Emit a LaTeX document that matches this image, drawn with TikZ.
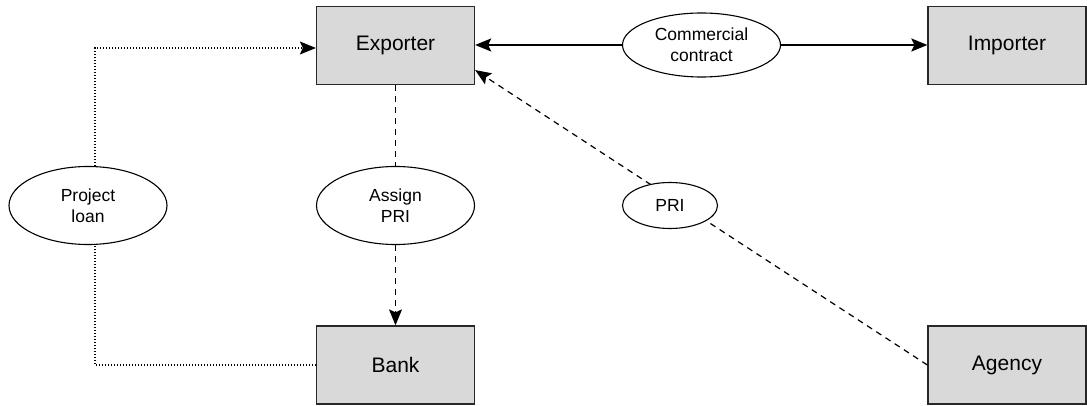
\documentclass[tikz,border=0pt]{standalone}
\usepackage{fontspec}
\setmainfont{Liberation Sans}
\usetikzlibrary{arrows.meta,calc,shapes.geometric}
\definecolor{boxfill}{RGB}{217,217,217}
\definecolor{boxline}{RGB}{40,40,40}

\begin{document}
\begin{tikzpicture}[x=1pt,y=-1pt,
  party/.style={draw=boxline,line width=1.3pt,fill=boxfill,minimum width=158pt,
    minimum height=78pt,inner sep=0pt,font=\fontsize{21}{25}\selectfont},
  tag/.style={ellipse,draw=black,line width=1.1pt,fill=white,inner sep=0pt,
    align=center,font=\fontsize{17.5}{21}\selectfont},
  tip/.style={-{Stealth[length=16pt,width=13pt,inset=3pt]}},
  solidlink/.style={line width=1.8pt},
  dashlink/.style={line width=1.2pt,dash pattern=on 6pt off 5pt},
  dotlink/.style={line width=1.2pt,dash pattern=on 1.2pt off 1.8pt},
]
\useasboundingbox (0,0) rectangle (1087,406);

% parties
\node[party] (exp)    at (395.5,45.5) {Exporter};
\node[party] (imp)    at (1007,45.5)  {Importer};
\node[party] (bank)   at (395.5,365)  {Bank};
\node[party] (agency) at (1007,365)   {Agency};

% contract between exporter and importer
\node[tag,minimum width=158pt,minimum height=64pt] (cc) at (701.5,45) {Commercial\\contract};
\draw[solidlink,tip] (cc.west) -- (cc.west -| exp.east);
\draw[solidlink,tip] (cc.east) -- (cc.east -| imp.west);

% assignment of the insurance to the bank
\node[tag,minimum width=158pt,minimum height=78pt] (assign) at (395.5,205.5) {Assign\\PRI};
\draw[dashlink] (exp) -- (assign);
\draw[dashlink,tip] (assign) -- (bank);

% loan from the bank to the exporter
\coordinate (loanrail) at (95,205.5);
\draw[dotlink,tip] (bank.west) -| (loanrail) |- ([yshift=-2.5pt]exp.west);
\node[tag,minimum width=158pt,minimum height=78pt] (loan) at (88,205.5) {Project\\loan};

% insurance from the agency
\draw[dashlink,tip] (agency.west) -- ($(exp.east)!0.62!(exp.south east)$);
\node[tag,minimum width=95pt,minimum height=46pt] (pri) at (670,205.5) {PRI};
\end{tikzpicture}
\end{document}
